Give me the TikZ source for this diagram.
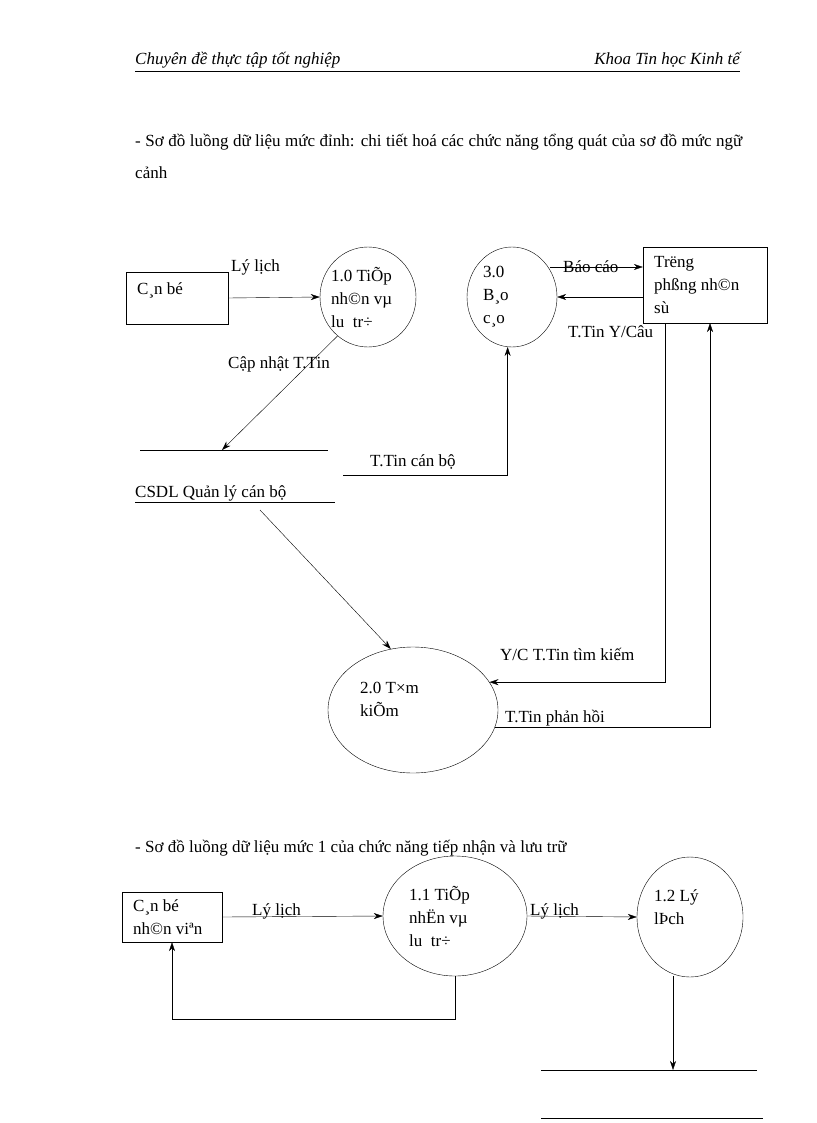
\documentclass[tikz,border=0pt]{standalone}
\usepackage{fontspec}
\setmainfont{Liberation Serif}
\usetikzlibrary{positioning,shapes.geometric,arrows.meta}
\tikzset{
  proc/.style={ellipse,draw,inner sep=0pt},
  ent/.style={rectangle,draw,inner sep=0pt},
  txt/.style={anchor=west,inner sep=0pt,align=left,font=\fontsize{17}{23}\selectfont},
  flow/.style={-{Stealth[length=9pt,width=6pt]}}
}
\begin{document}
\begin{tikzpicture}[x=1pt,y=-1pt]
    \useasboundingbox (0,0) rectangle (816,1123);
    % header
    \node[txt,font=\itshape\fontsize{17}{20}\selectfont] (hl) at (135,60) {Chuyên đề thực tập tốt nghiệp};
    \node[txt,font=\itshape\fontsize{17}{20}\selectfont,anchor=east] (hr) at (740,60) {Khoa Tin học Kinh tế};
    \draw (135,71) -- (740,71);
    \node[txt,text width=607pt,align=justify,font=\fontsize{17}{32}\selectfont] (p1) at (135,156) {- Sơ đồ luồng dữ liệu mức đỉnh: chi tiết hoá các chức năng tổng quát của sơ đồ mức ngữ cảnh};
    % top level
    \node[ent,minimum width=102pt,minimum height=52pt] (canbo) at (177,298) {};
    \node[txt] at (137,290) {C¸n bé};
    \node[proc,minimum width=96pt,minimum height=100pt] (p10) at (368,297) {};
    \node[txt] at (331,297) {1.0 TiÕp\\nh©n vµ\\lu\ \ tr÷};
    \node[proc,minimum width=90pt,minimum height=100pt] (p30) at (512,297) {};
    \node[txt] at (483,297) {3.0\\B¸o\\c¸o};
    \node[ent,minimum width=124pt,minimum height=76pt] (tp) at (705,285) {};
    \node[txt] at (654,285) {Trëng\\phßng nh©n\\sù};
    \node[proc,minimum width=170pt,minimum height=126pt] (p20) at (413,710) {};
    \node[txt] at (360,699) {2.0 T×m\\kiÕm};
    % data store
    \coordinate (s1) at (140,450); \coordinate (s2) at (328,450);
    \draw (s1) -- (s2);
    \node[txt] (csdl) at (135,493) {CSDL Quản lý cán bộ};
    \draw (135,502) -- (335,502);
    % flows
    \draw[flow] (canbo.east) -- (p10.west);
    \node[txt] at (231,267) {Lý lịch};
    \draw[flow] (p10.232) -- (222,450);
    \node[txt] at (228,364) {Cập nhật T.Tin};
    \coordinate (r1) at (550,267);
    \draw[flow] (r1) -- (tp.west |- r1);
    \node[txt] at (563,267) {Báo cáo};
    \draw[flow] (tp.west |- p30) -- (p30.east);
    \node[txt] (yc) at (568,332) {T.Tin Y/Câu};
    \coordinate (c1) at (343,475);
    \draw[flow] (c1) -| (p30.265);
    \node[txt] at (370,462) {T.Tin cán bộ};
    \draw[flow] (260,510) -- (p20.110);
    \coordinate (t1) at (665,323);
    \draw[flow] (t1) |- (p20.20);
    \node[txt] at (500,654) {Y/C T.Tin tìm kiếm};
    \coordinate (t2) at (710,323);
    \draw[flow] (p20.-12) -| (t2);
    \node[txt] at (505,718) {T.Tin phản hồi};
    % level 1
    \node[txt] (p2) at (135,848) {- Sơ đồ luồng dữ liệu mức 1 của chức năng tiếp nhận và lưu trữ};
    \node[ent,minimum width=100pt,minimum height=50pt] (cbnv) at (172,917) {};
    \node[txt] at (133,917) {C¸n bé\\nh©n viªn};
    \node[proc,minimum width=144pt,minimum height=120pt] (p11) at (455,916) {};
    \node[txt] at (409,916) {1.1 TiÕp\\nhËn vµ\\lu\ \ tr÷};
    \node[proc,minimum width=106pt,minimum height=120pt] (p12) at (690,917) {};
    \node[txt] at (654,907) {1.2 Lý\\lÞch};
    \draw[flow] (cbnv.east) -- (p11.west);
    \node[txt] at (252,911) {Lý lịch};
    \draw[flow] (p11.east) -- (p12.west);
    \node[txt] at (530,911) {Lý lịch};
    \coordinate (b1) at (455,1019);
    \draw[flow] (p11.south) -- (b1) -| (cbnv.south);
    \coordinate (d1) at (673,1070);
    \draw[flow] (673,976) -- (d1);
    \draw (541,1070) -- (757,1070);
    \draw (541,1118) -- (763,1118);
\end{tikzpicture}
\end{document}
